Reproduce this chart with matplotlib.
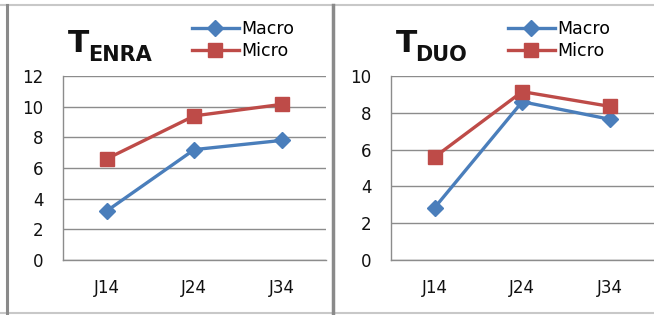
import matplotlib
matplotlib.use("Agg")
import matplotlib.pyplot as plt
from matplotlib.lines import Line2D

plt.rcParams['font.family'] = ['DejaVu Sans']

categories = ["J14", "J24", "J34"]
enra_macro = [3.2, 7.2, 7.8]
enra_micro = [6.6, 9.4, 10.15]
duo_macro = [2.85, 8.6, 7.65]
duo_micro = [5.6, 9.15, 8.35]
enra_ticks = [0, 2, 4, 6, 8, 10, 12]
duo_ticks = [0, 2, 4, 6, 8, 10]

BLUE = "#4A7EBB"
RED = "#BE4B48"
GRID = "#8C8C8C"

W, H = 654, 315
fig = plt.figure(figsize=(W / 100, H / 100), dpi=100)

def px(x, y):
    return x / W, 1 - y / H

def make_panel(x0, data_macro, data_micro, ticks, sub, title_x, sub_x, leg_x):
    ax = fig.add_axes([x0 / W, 1 - 260 / H, 262.5 / W, 184 / H])
    xs = range(len(categories))
    ax.plot(xs, data_macro, color=BLUE, lw=2.4, marker="D", ms=8.5,
            mfc=BLUE, mec=BLUE, label="Macro")
    ax.plot(xs, data_micro, color=RED, lw=2.4, marker="s", ms=9.5,
            mfc=RED, mec=RED, label="Micro")
    ax.set_xlim(-0.5, 2.5)
    ax.set_ylim(ticks[0], ticks[-1])
    ax.set_yticks(ticks)
    ax.set_xticks(list(xs))
    ax.set_xticklabels(categories)
    ax.yaxis.grid(True, color=GRID, lw=1)
    ax.set_axisbelow(True)
    for s in ["top", "right"]:
        ax.spines[s].set_visible(False)
    for s in ["left", "bottom"]:
        ax.spines[s].set_color(GRID)
        ax.spines[s].set_linewidth(1)
    ax.tick_params(axis="y", length=0, pad=14, labelsize=12, colors="#111111")
    ax.tick_params(axis="x", length=0, pad=14, labelsize=12, colors="#111111")
    ax.patch.set_alpha(0)
    # title
    fig.text(*px(title_x, 52.5), "T", fontsize=22.5, fontweight="bold",
             ha="left", va="baseline", color="#111111")
    fig.text(*px(sub_x, 61), sub, fontsize=15, fontweight="bold",
             ha="left", va="baseline", color="#111111")
    ax.legend(loc="upper left", bbox_to_anchor=px(leg_x, 20),
              bbox_transform=fig.transFigure, frameon=False,
              fontsize=12.5, handlelength=2.7, handletextpad=0.15,
              labelspacing=0.25, borderpad=0, borderaxespad=0)
    return ax

make_panel(63, enra_macro, enra_micro, enra_ticks, "ENRA", 68, 88, 192)
make_panel(391, duo_macro, duo_micro, duo_ticks, "DUO", 396, 415, 508)

# panel borders
fig.add_artist(Line2D([0, 1], [1 - 5 / H] * 2, color="#C8C8C8", lw=1.5))
fig.add_artist(Line2D([0, 1], [1 - 313 / H] * 2, color="#C8C8C8", lw=1.5))
fig.add_artist(Line2D([7 / W] * 2, [1 - 5 / H, 1 - 313 / H], color="#8A8A8A", lw=2.2))
fig.add_artist(Line2D([332.5 / W] * 2, [1 - 5 / H, 1 - 313 / H], color="#8A8A8A", lw=2.5))

fig.savefig("out.png", dpi=100)
